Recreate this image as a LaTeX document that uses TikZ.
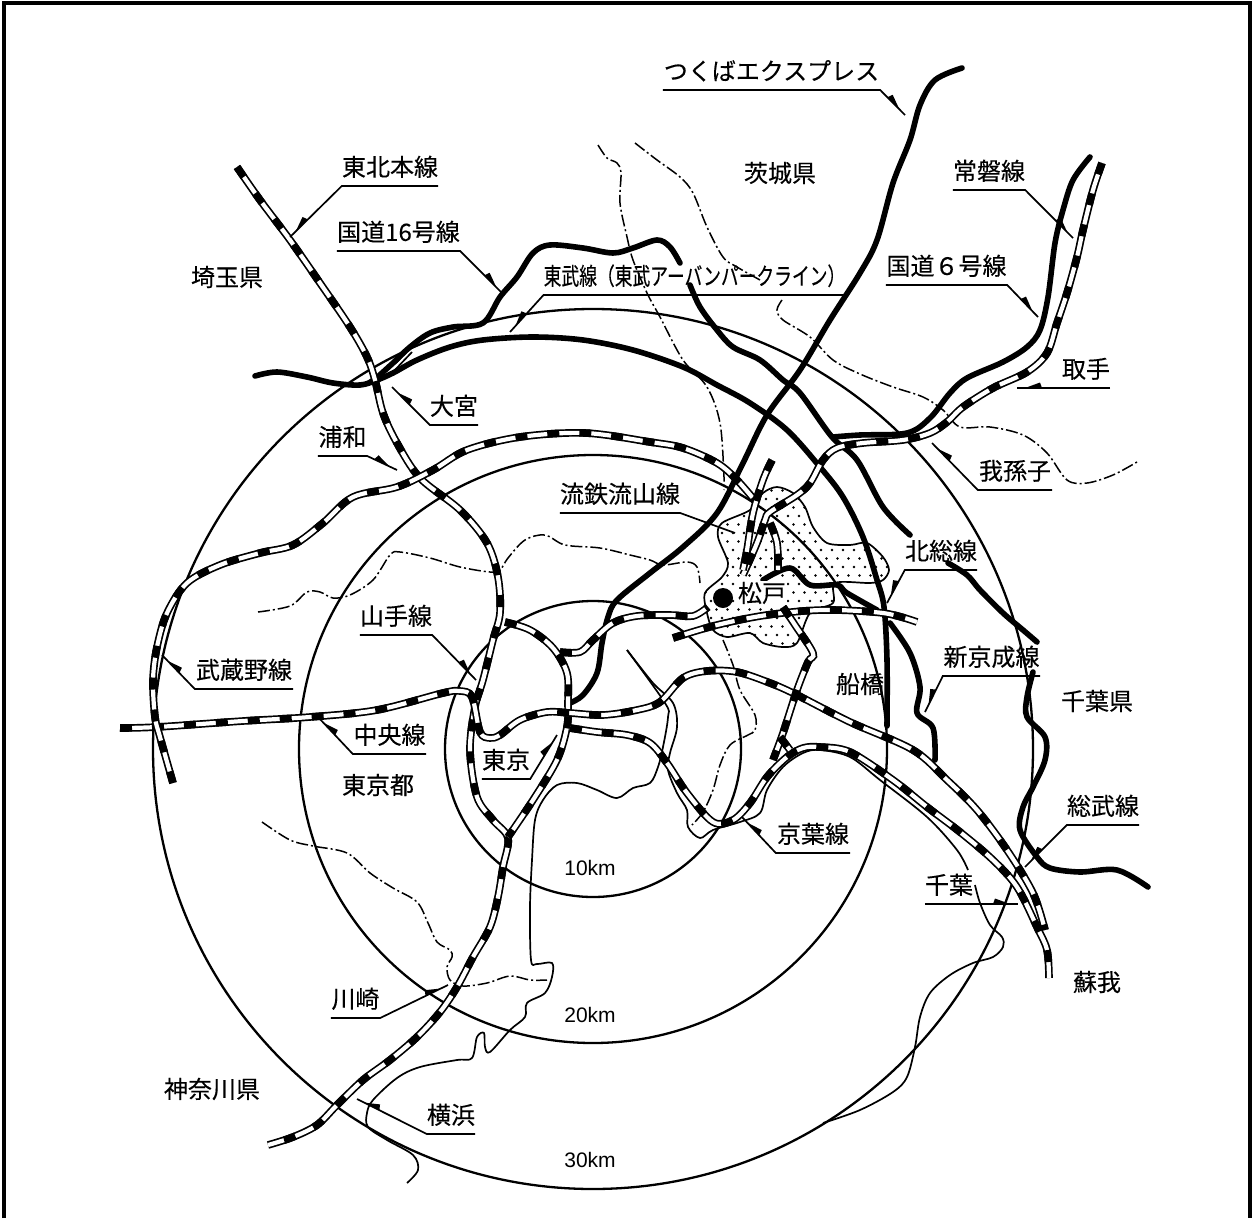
\documentclass[tikz,border=0pt]{standalone}
\usepackage{fontspec}
\usetikzlibrary{decorations.markings}
\newfontfamily\jpf[FakeBold=0.25]{Noto Sans CJK JP}
\newfontfamily\arf{Liberation Sans}
\newcommand\railway[1]{%
 \draw[railo] plot[smooth,tension=.55] coordinates {#1};
 \draw[raili] plot[smooth,tension=.55] coordinates {#1};
 \draw[raild] plot[smooth,tension=.55] coordinates {#1};}
\newcommand\thinline[1]{\draw[thinl] plot[smooth,tension=.55] coordinates {#1};}
\newcommand\bound[1]{\draw[boundl] plot[smooth,tension=.55] coordinates {#1};}
\newcommand\road[1]{\draw[roadl] plot[smooth,tension=.55] coordinates {#1};}
\tikzset{
 railo/.style={line width=7.6pt,black},
 raili/.style={line width=4.2pt,white},
 raild/.style={line width=7.6pt,black,dash pattern=on 12pt off 20pt},
 thinl/.style={line width=1.7pt,line join=round},
 ring/.style={line width=2.3pt},
 boundl/.style={line width=1.5pt,dash pattern=on 12pt off 3pt on 2pt off 3pt},
 roadl/.style={line width=5.6pt,line cap=round,line join=round},
 lbl/.style={inner sep=0pt,minimum height=38pt,anchor=south,font=\fontsize{24}{27}\selectfont\jpf},
 plain/.style={inner sep=0pt,font=\fontsize{24}{27}\selectfont\jpf},
 km/.style={inner sep=0pt,font=\fontsize{21}{24}\selectfont\arf},
 lead/.style={line width=1.7pt,line join=miter},
 barb/.style={postaction={decorate,decoration={markings,mark=at position -13pt with {\fill[black] (-12,0)--(5,0)--(-10,5.5)--cycle;}}}},
 barbl/.style={postaction={decorate,decoration={markings,mark=at position -13pt with {\fill[black] (-12,0)--(5,0)--(-10,-5.5)--cycle;}}}},
}
\begin{document}
\begin{tikzpicture}[x=1pt,y=-1pt]
\useasboundingbox (0,0) rectangle (1255,1218);
\draw[line width=4pt] (4,1218)--(4,3)--(1250,3)--(1250,1218);

% dotted Matsudo area
\begin{scope}
\clip plot[smooth cycle,tension=.5] coordinates {(763,493)(777,487)(793,493)(805,507)(813,527)(827,543)(850,545)(867,543)(883,557)(889,570)(883,580)(870,583)(835,583)(833,603)(810,613)(797,643)(783,647)(763,643)(750,633)(727,637)(713,630)(707,613)(705,593)(722,577)(728,563)(718,537)(722,523)(750,510)};
\foreach \j in {0,...,20}{\foreach \i in {0,...,20}{
 \fill ({700+\i*11+mod(\j,2)*5.5},{482+\j*8.5}) circle (1.35);}}
\end{scope}
\draw[thinl] plot[smooth cycle,tension=.5] coordinates {(763,493)(777,487)(793,493)(805,507)(813,527)(827,543)(850,545)(867,543)(883,557)(889,570)(883,580)(870,583)(835,583)(833,603)(810,613)(797,643)(783,647)(763,643)(750,633)(727,637)(713,630)(707,613)(705,593)(722,577)(728,563)(718,537)(722,523)(750,510)};

% distance rings
\coordinate (cen) at (593,749);
\draw[ring] (cen) circle (148);
\draw[ring] (cen) circle (294);
\draw[ring] (cen) circle (440);

% prefecture boundaries
\bound{(635,143)(657,160)(680,177)(693,193)(707,227)(723,257)(737,267)(760,280)}
\bound{(782,300)(777,310)(783,320)(810,337)(833,360)(860,374)(893,387)(923,397)(943,410)(960,427)(990,427)(1023,435)(1047,453)(1067,480)(1087,483)(1113,475)(1137,462)}
\bound{(598,145)(607,158)(617,163)(621,173)(620,203)(627,237)(633,260)(647,293)(660,317)(683,360)(707,387)(720,423)(724,477)(724,490)}
\bound{(258,612)(290,606)(307,592)(320,592)(333,598)(350,595)(373,580)(390,555)(400,552)(430,558)(460,567)(490,572)(500,570)(508,558)(525,540)(545,535)(565,545)(600,548)(630,555)(650,560)(663,565)(687,562)(697,567)(700,583)}
\bound{(723,640)(733,665)(740,690)(755,715)(755,730)(748,735)(730,745)(720,765)(713,790)(703,812)(692,825)}
\bound{(262,822)(290,840)(313,846)(347,853)(370,873)(393,888)(417,902)(428,923)(437,942)(450,950)(452,957)(447,967)(450,980)(463,986)(487,983)(510,976)(530,980)(547,980)}

% coast and rivers
\thinline{(627,650)(665,703)(668,717)(663,747)(658,767)(650,783)(633,788)(617,798)(597,790)(577,783)(557,785)(543,800)(535,820)(532,860)(530,907)(531,960)(537,964)(552,963)(552,977)(545,993)(527,1003)(525,1017)(510,1030)(490,1052)(485,1047)(484,1033)(477,1037)(472,1058)(457,1060)(420,1067)(397,1078)(373,1100)(367,1113)(368,1127)(387,1140)(413,1155)(418,1170)(407,1183)}
\thinline{(627,650)(653,683)(673,703)(677,727)(670,753)(668,770)(677,793)(687,810)(688,827)(700,838)(713,830)(740,822)(760,813)(767,790)(783,767)(803,753)(820,750)(850,757)(880,780)(927,817)(957,850)(968,870)}
\thinline{(975,885)(980,903)(990,925)(1002,937)(1003,947)(993,957)(973,963)(950,975)(930,993)(920,1017)(915,1047)(907,1077)(893,1092)(860,1110)(823,1123)}

% roads and thick lines
\road{(255,376)(277,372)(307,377)(333,383)(360,385)(377,380)(393,373)(417,360)(450,347)(483,340)(533,337)(583,340)(633,350)(683,367)(717,385)(750,403)(787,430)(820,467)(843,497)(863,537)(877,580)(884,607)(887,660)(887,726)}
\road{(372,382)(393,363)(410,347)(430,333)(453,327)(483,323)(500,297)(517,277)(533,253)(550,245)(583,248)(613,253)(633,248)(657,240)(670,247)(680,263)}
\road{(690,285)(700,307)(717,330)(733,347)(760,360)(783,380)(800,393)(832,437)(857,460)(883,507)(910,535)}
\road{(948,563)(967,575)(980,590)(1003,613)(1023,630)(1037,642)}
\road{(1033,672)(1027,697)(1027,717)(1045,737)(1045,760)(1033,787)(1023,807)(1020,830)(1037,857)(1050,868)(1080,872)(1117,870)(1148,887)}
\road{(962,68)(935,80)(920,105)(910,140)(893,183)(877,240)(860,273)(830,320)(800,370)(767,415)(743,463)(717,513)(683,547)(650,573)(617,600)(608,617)(602,643)(597,673)(583,695)(570,703)}
\road{(1090,157)(1073,180)(1063,210)(1055,243)(1048,297)(1040,330)(1027,347)(1003,362)(967,378)(950,393)(930,418)(907,433)(860,435)(833,437)}
\road{(890,623)(910,653)(920,687)(917,713)(933,728)(935,760)}
\road{(763,580)(790,568)(810,585)(837,585)(847,593)(877,610)}
\draw[thinl] (367,382)--(397,362)--(410,348);
\draw[thinl] (375,384)--(393,372)--(412,352);

% railways
\railway{(237,167)(260,200)(290,240)(320,283)(350,327)(367,357)(375,380)(383,413)(397,443)(420,478)(460,510)(487,543)(498,577)(500,613)(493,640)(483,680)(475,707)(470,750)(477,797)(493,820)(508,838)(503,867)(498,897)(490,927)(473,957)(457,987)(440,1012)(417,1037)(390,1060)(363,1080)(337,1105)(317,1125)(293,1137)(268,1145)}
\railway{(505,622)(530,630)(553,648)(567,673)(568,703)(567,727)(557,760)(533,800)(508,837)}
\railway{(120,728)(157,727)(243,721)(310,717)(377,710)(443,693)(460,691)(472,697)(480,732)(490,738)(500,735)(520,720)(547,712)(570,713)(603,715)(637,710)(660,702)(683,678)(707,671)(737,672)(770,683)(797,695)(850,722)(913,750)(947,780)(977,810)(1007,850)(1033,893)(1045,930)}
\railway{(570,728)(597,732)(627,735)(650,743)(667,763)(687,793)(713,822)(733,820)(750,803)(767,777)(787,757)(803,748)(820,747)(850,752)(893,780)(927,807)(960,832)(993,860)(1017,887)(1037,927)(1047,950)(1049,978)}
\railway{(173,783)(160,737)(155,717)(153,680)(157,647)(167,613)(187,583)(220,565)(260,553)(293,545)(323,523)(353,497)(397,487)(433,470)(467,450)(520,437)(585,433)(650,442)(683,448)(717,463)(737,480)(757,503)}
\railway{(1102,163)(1093,190)(1083,230)(1077,257)(1067,293)(1057,323)(1047,353)(1027,372)(993,388)(963,407)(947,422)(930,433)(903,440)(863,443)(837,448)(823,460)(810,483)(797,495)(770,512)(765,520)(757,543)(743,575)}
\railway{(772,460)(763,480)(753,513)(747,550)(743,570)}
\railway{(560,652)(580,652)(593,640)(613,623)(637,616)(670,615)(693,616)(708,607)}
\railway{(673,638)(717,625)(767,615)(823,610)(883,613)(917,622)}
\railway{(770,523)(777,543)(778,570)}
\railway{(783,607)(795,625)(813,653)(808,662)(797,690)(783,733)(773,760)}
\railway{(780,737)(790,750)}

% Matsudo dot
\node[circle,fill=black,inner sep=0pt,minimum size=20pt] (dot) at (723,598) {};

% plain labels
\node[plain] (saitama) at (227,277) {埼玉県};
\node[plain] (ibaraki) at (780,173) {茨城県};
\node[plain,fill=white,inner sep=1pt] (matsudo) at (762,593) {松戸};
\node[plain] (funabashi) at (860,684) {船橋};
\node[plain] (chibak) at (1097,701) {千葉県};
\node[plain] (tokyoto) at (378,785) {東京都};
\node[plain] (soga) at (1097,982) {蘇我};
\node[plain] (kanagawa) at (212,1089) {神奈川県};
\node[km] (k10) at (590,868) {10km};
\node[km] (k20) at (590,1015) {20km};
\node[km] (k30) at (590,1160) {30km};

% labels with leaders
\node[lbl,minimum width=217pt] (tx) at (771.5,90) {つくばエクスプレス};
\coordinate (txE) at (905,115);
\draw[lead,barbl] (tx.south west)--(tx.south east)--(txE);

\node[lbl,minimum width=96pt] (tohoku) at (390,186) {東北本線};
\coordinate (tohokuE) at (290,237);
\draw[lead,barb] (tohoku.south east)--(tohoku.south west)--(tohokuE);

\node[lbl,minimum width=123pt] (r16) at (398.5,251) {国道16号線};
\coordinate (r16E) at (502,293);
\draw[lead,barbl] (r16.south west)--(r16.south east)--(r16E);

\node[lbl,minimum width=72pt] (joban) at (989,190) {常磐線};
\coordinate (jobanE) at (1073,238);
\draw[lead,barbl] (joban.south west)--(joban.south east)--(jobanE);

\node[lbl,minimum width=121pt] (r6) at (946.5,285) {国道６号線};
\coordinate (r6E) at (1038,317);
\draw[lead,barbl] (r6.south west)--(r6.south east)--(r6E);

\node[lbl,minimum width=297pt] (tobu) at (694.5,295) {\scalebox{0.74}[1]{東武線（東武アーバンパークライン）}};
\coordinate (tobuE) at (510,332);
\draw[lead,barb] (tobu.south east)--(tobu.south west)--(tobuE);

\node[lbl,text width=93pt,align=right] (toride) at (1063.5,388) {取手\hspace*{12pt}};
\coordinate (torideE) at (1017,388);
\draw[lead,barb] (toride.south east)--(torideE);

\node[lbl,minimum width=48pt] (omiya) at (454,425) {大宮};
\coordinate (omiyaE) at (392,387);
\draw[lead,barb] (omiya.south east)--(omiya.south west)--(omiyaE);

\node[lbl,minimum width=49pt] (urawa) at (342.5,456) {浦和};
\coordinate (urawaE) at (397,470);
\draw[lead,barbl] (urawa.south west)--(urawa.south east)--(urawaE);

\node[lbl,minimum width=74pt] (abiko) at (1015,490) {我孫子};
\coordinate (abikoE) at (932,443);
\draw[lead,barb] (abiko.south east)--(abiko.south west)--(abikoE);

\node[lbl,minimum width=120pt] (ryutetsu) at (620,513) {流鉄流山線};
\coordinate (ryutetsuE) at (735,533);
\draw[lead] (ryutetsu.south west)--(ryutetsu.south east)--(ryutetsuE);

\node[lbl,minimum width=72pt] (hokuso) at (941,570) {北総線};
\coordinate (hokusoE) at (887,603);
\draw[lead,barb] (hokuso.south east)--(hokuso.south west)--(hokusoE);

\node[lbl,minimum width=72pt] (yamanote) at (396,635) {山手線};
\coordinate (yamanoteE) at (476,680);
\draw[lead,barbl] (yamanote.south west)--(yamanote.south east)--(yamanoteE);

\node[lbl,minimum width=98pt] (musashino) at (244,689) {武蔵野線};
\coordinate (musashinoE) at (162,655);
\draw[lead,barb] (musashino.south east)--(musashino.south west)--(musashinoE);

\node[lbl,minimum width=97pt] (shinkeisei) at (991.5,676) {新京成線};
\coordinate (shinkeiseiE) at (925,712);
\draw[lead,barb] (shinkeisei.south east)--(shinkeisei.south west)--(shinkeiseiE);

\node[lbl,minimum width=73pt] (chuo) at (389.5,754) {中央線};
\coordinate (chuoE) at (318,717);
\draw[lead,barb] (chuo.south east)--(chuo.south west)--(chuoE);

\node[lbl,minimum width=48pt] (tokyo) at (506,779) {東京};
\coordinate (tokyoE) at (557,735);
\draw[lead,barbl] (tokyo.south west)--(tokyo.south east)--(tokyoE);

\node[lbl,minimum width=74pt] (keiyo) at (813,853) {京葉線};
\coordinate (keiyoE) at (742,817);
\draw[lead,barb] (keiyo.south east)--(keiyo.south west)--(keiyoE);

\node[lbl,minimum width=72pt] (sobu) at (1103,825) {総武線};
\coordinate (sobuE) at (1025,867);
\draw[lead,barb] (sobu.south east)--(sobu.south west)--(sobuE);

\node[lbl,text width=93pt,align=left] (chiba) at (971.5,904) {千葉};
\coordinate (chibaE) at (1018,904);
\draw[lead,barbl] (chiba.south west)--(chibaE);

\node[lbl,minimum width=49pt] (kawasaki) at (355.5,1018) {川崎};
\coordinate (kawasakiE) at (448,985);
\draw[lead,barbl] (kawasaki.south west)--(kawasaki.south east)--(kawasakiE);

\node[lbl,minimum width=48pt] (yokohama) at (451,1134) {横浜};
\coordinate (yokohamaE) at (357,1099);
\draw[lead,barb] (yokohama.south east)--(yokohama.south west)--(yokohamaE);
\end{tikzpicture}
\end{document}
